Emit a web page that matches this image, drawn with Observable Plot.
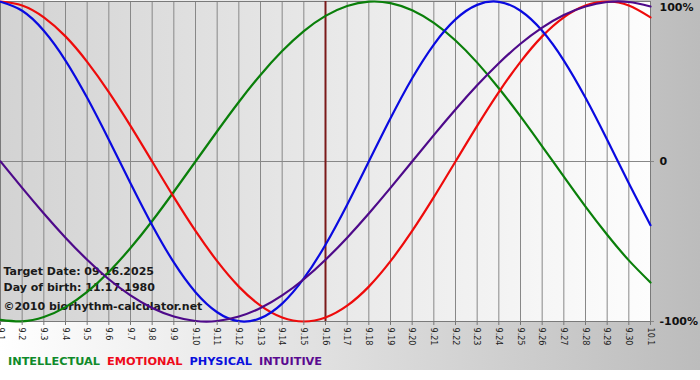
<!DOCTYPE html>
<html><head><meta charset="utf-8">
<script src="https://cdn.jsdelivr.net/npm/d3@7"></script>
<script src="https://cdn.jsdelivr.net/npm/@observablehq/plot@0.6"></script>
<style>
body{margin:0;background:#fff;}
#wrap{position:relative;width:700px;height:370px;background:linear-gradient(to right,#ffffff,#bcbcbc);overflow:hidden;}
#legend{position:absolute;left:8px;top:355px;font:bold 11.3px "DejaVu Sans",sans-serif;white-space:nowrap;line-height:13px;}
#legend span{margin-right:7px;}
</style></head><body>
<div id="wrap"><div id="chart"></div><div id="legend"></div></div>
<script>
const xLabels = ["9.1","9.2","9.3","9.4","9.5","9.6","9.7","9.8","9.9","9.10","9.11","9.12","9.13","9.14","9.15","9.16","9.17","9.18","9.19","9.20","9.21","9.22","9.23","9.24","9.25","9.26","9.27","9.28","9.29","9.30","10.1"];
const intellectual = [-99.0,-99.9,-97.2,-91.0,-81.5,-69.0,-54.1,-37.2,-18.9,0,18.9,37.2,54.1,69.0,81.5,91.0,97.2,99.9,99.0,94.5,86.6,75.6,61.8,45.8,28.2,9.5,-9.5,-28.2,-45.8,-61.8,-75.6];
const emotional = [100,97.5,90.1,78.2,62.3,43.4,22.3,0,-22.3,-43.4,-62.3,-78.2,-90.1,-97.5,-100,-97.5,-90.1,-78.2,-62.3,-43.4,-22.3,0,22.3,43.4,62.3,78.2,90.1,97.5,100,97.5,90.1];
const physical = [99.8,94.2,81.7,63.1,39.8,13.6,-13.6,-39.8,-63.1,-81.7,-94.2,-99.8,-97.9,-88.8,-73.1,-52.0,-27.0,0,27.0,52.0,73.1,88.8,97.9,99.8,94.2,81.7,63.1,39.8,13.6,-13.6,-39.8];
const intuitive = [0,-16.5,-32.5,-47.6,-61.4,-73.6,-83.7,-91.6,-96.9,-99.7,-99.7,-96.9,-91.6,-83.7,-73.6,-61.4,-47.6,-32.5,-16.5,0,16.5,32.5,47.6,61.4,73.6,83.7,91.6,96.9,99.7,99.7,96.9];
const seriesNames = ["INTELLECTUAL","EMOTIONAL","PHYSICAL","INTUITIVE"];
const yTicks = [-100, 0, 100];
const targetLabel = "9.16";
const infoLines = ["Target Date: 09.16.2025","Day of birth: 11.17.1980","©2010 biorhythm-calculator.net"];

const lineColors = ["#0a7f0a","#ee0b0b","#0a0ae0","#4e0a8a"];
const legendColors = ["#0f8a2a","#ee0a1a","#0a10dd","#5a0a90"];
const font = "DejaVu Sans, sans-serif";

const idx = d3.range(xLabels.length);
const seriesValues = [intellectual, emotional, physical, intuitive];
const rows = seriesNames.flatMap((s, k) => idx.map(i => ({i, v: seriesValues[k][i], s})));
const targetIndex = xLabels.indexOf(targetLabel);
const infoStyle = {frameAnchor: "bottom-left", dx: 3, lineAnchor: "middle", textAnchor: "start", fontSize: 11, fontWeight: "bold", fill: "#1a1a1a", fontFamily: font};

const svg = Plot.plot({
  width: 700, height: 350,
  marginLeft: 0, marginRight: 50, marginTop: 1, marginBottom: 29,
  x: {domain: [0, xLabels.length - 1], axis: null},
  y: {domain: [-100, 100], axis: null},
  color: {domain: seriesNames, range: lineColors},
  style: {background: "transparent", overflow: "visible", fontFamily: font},
  marks: [
    Plot.frame({fill: "url(#plotbg)"}),
    Plot.ruleX(idx, {stroke: "#888", strokeWidth: 1}),
    Plot.ruleY([0], {stroke: "#888"}),
    Plot.frame({stroke: "#7a7a7a"}),
    Plot.text([infoLines[0]], {...infoStyle, dy: -50}),
    Plot.text([infoLines[1]], {...infoStyle, dy: -34}),
    Plot.text([infoLines[2]], {...infoStyle, dy: -15}),
    Plot.ruleX([targetIndex], {stroke: "#7b1a1a", strokeWidth: 2}),
    Plot.line(rows, {x: "i", y: "v", z: "s", stroke: "s", strokeWidth: 2.2, curve: "natural"}),
    Plot.axisX({ticks: idx, tickFormat: i => xLabels[i], tickRotate: 90, tickSize: 4, tickPadding: 2, fontSize: 9, fontFamily: "DejaVu Sans Condensed, sans-serif", stroke: "#777", fill: "#222", label: null}),
    Plot.axisY({anchor: "right", ticks: yTicks.filter(t => t < 100), tickFormat: t => t === 0 ? "0" : t + "%", tickSize: 3, tickPadding: 6, fontSize: 11, fontWeight: "bold", fill: "#111", stroke: "#888", fontFamily: font, label: null}),
    Plot.axisY({anchor: "right", ticks: yTicks.filter(t => t === 100), tickFormat: t => t + "%", tickSize: 0, tickPadding: 9, dy: 6, fontSize: 11, fontWeight: "bold", fill: "#111", fontFamily: font, label: null})
  ]
});
d3.select(svg).insert("defs", ":first-child").html('<linearGradient id="plotbg" x1="0" x2="1" y1="0" y2="0"><stop offset="0" stop-color="#d3d3d3"/><stop offset="1" stop-color="#fdfdfd"/></linearGradient>');
document.getElementById("chart").appendChild(svg);

const legend = d3.select("#legend");
seriesNames.forEach((n, k) => legend.append("span").style("color", legendColors[k]).text(n));
</script>
</body></html>
